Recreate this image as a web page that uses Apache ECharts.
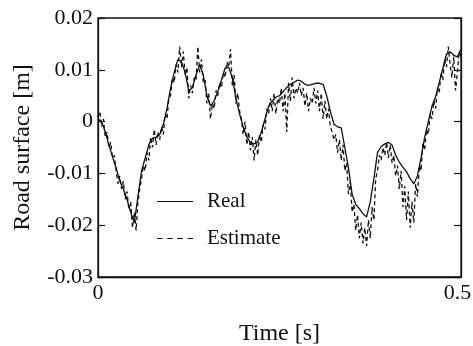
<!DOCTYPE html>
<html>
<head>
<meta charset="utf-8">
<script src="https://cdn.jsdelivr.net/npm/echarts@6/dist/echarts.min.js"></script>
<style>
  html, body { margin: 0; padding: 0; background: #fff; }
  #chart { width: 473px; height: 346px; }
</style>
</head>
<body>
<div id="chart"></div>
<script>
// 时间轴: 实测每 0.005 s, 估计每 0.0025 s
var realStep = 0.005;
var estStep = 0.0025;

// Real road surface [m], t = 0 .. 0.5
var realValues = [
  0.0005, 0.0, -0.002, -0.0045, -0.0068, -0.009, -0.0115, -0.013, -0.015, -0.0175,
  -0.0195, -0.0145, -0.0095, -0.007, -0.0045, -0.0032, -0.003, -0.0025, -0.0005, 0.0025,
  0.0065, 0.0095, 0.012, 0.0115, 0.0095, 0.006, 0.0065, 0.009, 0.011, 0.009,
  0.005, 0.003, 0.004, 0.0058, 0.008, 0.0103, 0.0105, 0.0085, 0.0045, 0.0015,
  -0.001, -0.003, -0.004, -0.0043, -0.004, -0.002, 0.0005, 0.003, 0.004, 0.0047,
  0.005, 0.0058, 0.0066, 0.0072, 0.0076, 0.008, 0.0078, 0.0072, 0.007, 0.0072,
  0.0074, 0.0074, 0.0072, 0.005, 0.002, -0.0005, -0.001, -0.0012, -0.005, -0.009,
  -0.014, -0.016, -0.0168, -0.0178, -0.0184, -0.0155, -0.011, -0.006, -0.0048, -0.0043,
  -0.004, -0.0045, -0.0065, -0.0078, -0.0088, -0.0097, -0.011, -0.012, -0.0105, -0.007,
  -0.003, 0.0, 0.003, 0.0048, 0.0075, 0.0103, 0.013, 0.0135, 0.0128, 0.0125,
  0.014
];

// Estimated road surface [m], t = 0 .. 0.5
var estimateValues = [
  0.001, 0.002, -0.001, 0.0005, -0.003, -0.002, -0.005, -0.004, -0.007, -0.0065,
  -0.0095, -0.012, -0.0105, -0.013, -0.0115, -0.015, -0.0135, -0.017, -0.0155, -0.0205,
  -0.0175, -0.021, -0.0155, -0.013, -0.011, -0.0085, -0.0095, -0.006, -0.0075, -0.003,
  -0.005, -0.0015, -0.0045, -0.002, -0.0035, -0.001, -0.0025, 0.0015, 0.0005, 0.0045,
  0.005, 0.0085, 0.0075, 0.011, 0.0095, 0.0145, 0.0105, 0.0135, 0.009, 0.0105,
  0.0045, 0.007, 0.0055, 0.0085, 0.008, 0.0145, 0.0095, 0.012, 0.0075, 0.008,
  0.0035, 0.0055, 0.0005, 0.0035, 0.0025, 0.006, 0.005, 0.0075, 0.0065, 0.0095,
  0.0085, 0.0115, 0.0105, 0.014, 0.007, 0.009, 0.0035, 0.0055, 0.002, 0.0005,
  -0.0025, 0.0, -0.0045, -0.002, -0.0055, -0.003, -0.0075, -0.0035, -0.0065, -0.0025,
  -0.004, -0.0005, -0.0015, 0.0025, 0.0015, 0.0045, 0.002, 0.0055, 0.0015, 0.0045,
  0.0035, 0.0065, 0.002, 0.0055, -0.002, 0.0075, 0.004, 0.0085, 0.0045, 0.0065,
  0.0055, 0.0075, 0.005, 0.0065, 0.003, 0.0055, 0.002, 0.0045, 0.0035, 0.0065,
  0.0035, 0.006, 0.002, 0.0055, 0.0005, 0.004, 0.0005, 0.0025, -0.001, -0.002,
  -0.0035, -0.0025, -0.006, -0.0035, -0.0075, -0.0045, -0.0095, -0.008, -0.014, -0.0115,
  -0.0175, -0.016, -0.021, -0.018, -0.0225, -0.0195, -0.0235, -0.0205, -0.024, -0.019,
  -0.0225, -0.0165, -0.019, -0.011, -0.0095, -0.0065, -0.0075, -0.005, -0.0065, -0.004,
  -0.007, -0.0045, -0.008, -0.0065, -0.0105, -0.0085, -0.013, -0.0095, -0.0165, -0.0125,
  -0.019, -0.0135, -0.0205, -0.0155, -0.0195, -0.012, -0.0145, -0.0085, -0.0095, -0.004,
  -0.0055, -0.0015, -0.0025, 0.0015, 0.0005, 0.004, 0.0025, 0.0065, 0.0055, 0.0095,
  0.008, 0.012, 0.0105, 0.0145, 0.011, 0.0085, 0.0125, 0.006, 0.0095, 0.0135,
  0.0125
];

var xTickLabels = ['0', '0.5'];
var yTickLabels = ['-0.03', '-0.02', '-0.01', '0', '0.01', '0.02'];

function toPairs(values, step) {
  return values.map(function (v, i) {
    return [+(i * step).toFixed(4), v];
  });
}

var font = '"Liberation Serif", "DejaVu Serif", serif';
var ink = '#111';

var chart = echarts.init(document.getElementById('chart'));

chart.setOption({
  animation: false,
  backgroundColor: '#fff',
  grid: {
    left: 98,
    right: 12,
    top: 18,
    bottom: 69,
    outerBoundsMode: 'none',
    containLabel: false,
    show: true,
    borderColor: ink,
    borderWidth: 1.3
  },
  legend: {
    orient: 'vertical',
    left: 152,
    top: 186,
    itemWidth: 36,
    itemHeight: 1.4,
    itemGap: 16,
    textStyle: {
      fontFamily: font,
      fontSize: 21,
      color: ink,
      padding: [0, 0, 0, 9]
    },
    data: [
      { name: 'Real', icon: 'path://M0,0H36V1H0Z' },
      { name: 'Estimate', icon: 'path://M0,0H5V1H0Z M9,0H14V1H9Z M18,0H23V1H18Z M27,0H32V1H27Z' }
    ]
  },
  xAxis: {
    type: 'value',
    min: 0,
    max: 0.5,
    interval: 0.5,
    name: 'Time [s]',
    nameLocation: 'middle',
    nameGap: 45,
    nameTextStyle: { fontFamily: font, fontSize: 24, color: ink },
    axisLine: { show: true, onZero: false, lineStyle: { color: ink, width: 1.3 } },
    axisTick: { show: false },
    splitLine: { show: false },
    axisLabel: {
      fontFamily: font,
      fontSize: 22,
      color: ink,
      margin: 5,
      formatter: function (v) {
        return v === 0 ? '{a|' + xTickLabels[0] + '}' : '{b|' + xTickLabels[1] + '}';
      },
      rich: {
        a: { fontFamily: font, fontSize: 22, color: ink },
        b: { fontFamily: font, fontSize: 22, color: ink, padding: [0, 7, 0, 0] }
      }
    }
  },
  yAxis: [{
    type: 'value',
    min: -0.03,
    max: 0.02,
    interval: 0.01,
    name: 'Road surface [m]',
    nameLocation: 'middle',
    nameGap: 63,
    nameTextStyle: { fontFamily: font, fontSize: 24, color: ink },
    axisLine: { show: true, lineStyle: { color: ink, width: 1.3 } },
    axisTick: { show: true, inside: true, length: 7, lineStyle: { color: ink, width: 1.2 } },
    splitLine: { show: false },
    axisLabel: {
      fontFamily: font,
      fontSize: 22,
      color: ink,
      margin: 5,
      formatter: function (v) {
        return yTickLabels[Math.round((v + 0.03) / 0.01)];
      }
    }
  }, {
    type: 'value',
    position: 'right',
    min: -0.03,
    max: 0.02,
    interval: 0.01,
    axisLine: { show: true, lineStyle: { color: ink, width: 1.3 } },
    axisTick: { show: true, inside: true, length: 7, lineStyle: { color: ink, width: 1.2 } },
    axisLabel: { show: false },
    splitLine: { show: false }
  }],
  series: [{
    name: 'Real',
    type: 'line',
    symbol: 'none',
    data: toPairs(realValues, realStep),
    lineStyle: { color: ink, width: 1.3, type: 'solid' },
    itemStyle: { color: ink },
    z: 3
  }, {
    name: 'Estimate',
    type: 'line',
    symbol: 'none',
    data: toPairs(estimateValues, estStep),
    lineStyle: { color: ink, width: 1.3, type: [4, 3] },
    itemStyle: { color: ink },
    z: 2
  }]
});
</script>
</body>
</html>
